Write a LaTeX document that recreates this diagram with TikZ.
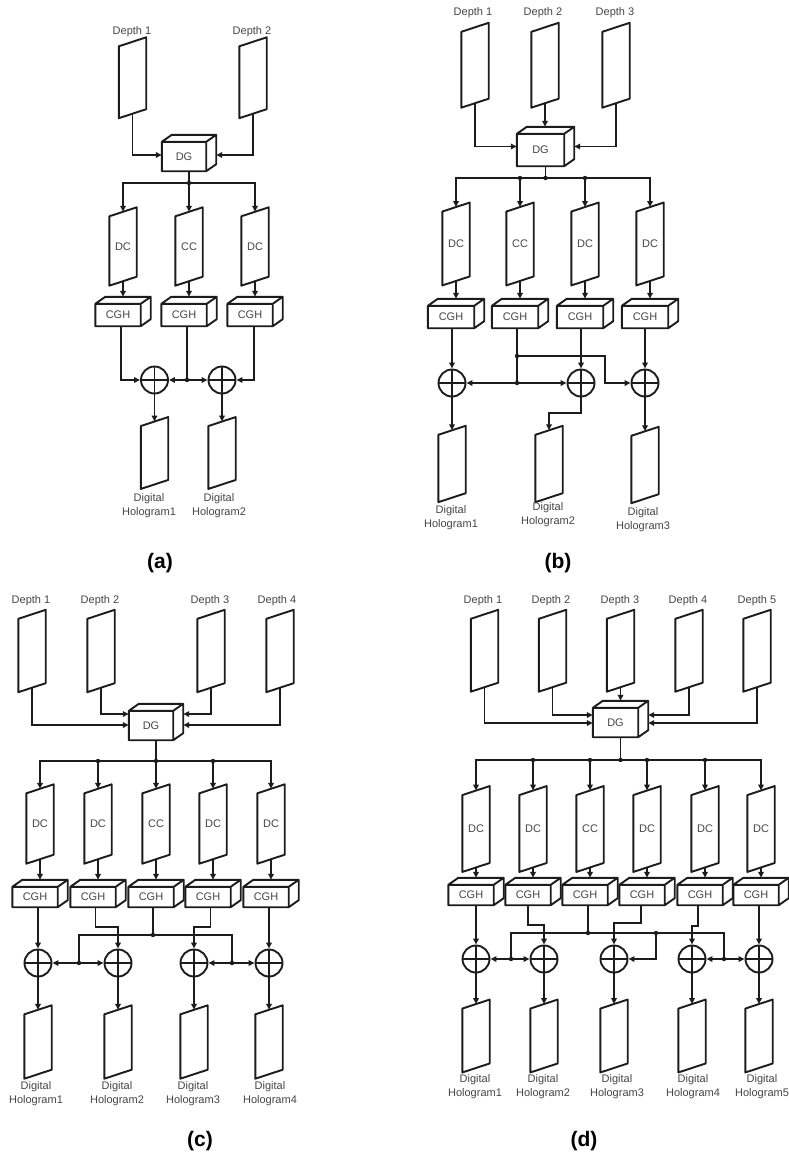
\documentclass[tikz,border=0pt]{standalone}
\usepackage{fontspec}
\usetikzlibrary{calc,arrows.meta}
\newfontfamily\labfont{Liberation Sans}
\definecolor{linec}{RGB}{28,28,28}
\definecolor{txtc}{RGB}{70,70,70}
\tikzset{
  ln/.style={draw=linec, line width=1.9pt},
  arr/.style={ln, -{Triangle[length=6pt,width=5.5pt]}},
  txt/.style={font=\labfont\fontsize{11}{14.5}\selectfont, text=txtc, inner sep=0pt, align=center},
  panel/.style={font=\labfont\bfseries\fontsize{21}{24}\selectfont, text=black, inner sep=0pt},
  % slanted sheet: node box spans the mid points of the top and bottom edges
  sheet/.style={txt, minimum width=27pt, minimum height=#1,
    append after command={\pgfextra{
      \draw[ln, line join=round]
        ($(\tikzlastnode.north west)+(0,4.5)$) -- ($(\tikzlastnode.north east)+(0,-4.5)$) --
        ($(\tikzlastnode.south east)+(0,-4.5)$) -- ($(\tikzlastnode.south west)+(0,4.5)$) -- cycle;}}},
  % box in perspective: node box is the whole outline, front face at bottom left
  cube/.style={inner sep=0pt,
    append after command={\pgfextra{
      \draw[ln, line join=round]
        (\tikzlastnode.south west) rectangle ($(\tikzlastnode.north east)+(-10,7)$)
        ($(\tikzlastnode.north west)+(0,7)$) -- ($(\tikzlastnode.north west)+(10,0)$) --
        (\tikzlastnode.north east) -- ($(\tikzlastnode.north east)+(-10,7)$)
        (\tikzlastnode.north east) -- ($(\tikzlastnode.south east)+(0,-7)$) --
        ($(\tikzlastnode.south east)+(-10,0)$);}}},
  cubetxt/.style={txt, xshift=-5pt, yshift=-3.5pt},
  adder/.style={circle, draw=linec, line width=1.9pt, minimum size=27pt, inner sep=0pt,
    path picture={\draw[ln] (path picture bounding box.north) -- (path picture bounding box.south)
      (path picture bounding box.west) -- (path picture bounding box.east);}},
}
\begin{document}
\begin{tikzpicture}[x=1pt, y=-1pt]
\useasboundingbox (0,0) rectangle (788,1156);
\fill[white] (0,0) rectangle (788,1156);

% ====================== (a) ======================
\node[txt] (aL1) at (132,32) {Depth 1};
\node[txt] (aL2) at (252,32) {Depth 2};
\node[sheet=71.5pt] (ad1) at (132.5,77.75) {};
\node[sheet=71.5pt] (ad2) at (253,77.75) {};
\node[cube, minimum width=54pt, minimum height=36pt, label={[cubetxt]center:DG}] (adg) at (189,153) {};
\draw[arr] (ad1.south) |- ([yshift=-2pt]adg.west);
\draw[arr] (ad2.south) |- ([yshift=-2pt]adg.east);
\coordinate (ab) at (189,183);
\draw[ln] (adg.south) -- (ab);
\node[sheet=69pt] (adc1) at (123,246.5) {DC};
\node[sheet=69pt] (adc2) at (189,246.5) {CC};
\node[sheet=69pt] (adc3) at (255,246.5) {DC};
\draw[arr] (ab) -| (adc1.north);
\draw[arr] (ab) -- (adc2.north);
\draw[arr] (ab) -| (adc3.north);
\foreach \i in {1,2,3}{
  \node[cube, minimum width=55pt, minimum height=29pt, label={[cubetxt]center:CGH}] (ac\i) at (adc\i.center |- 0,311.5) {};
  \draw[arr] (adc\i.south) -- (ac\i.north);
}
\node[adder] (as1) at (154.5,380) {};
\node[adder] (as2) at (222,380) {};
\coordinate (aj) at (187,380);
\draw[arr] ([xshift=-2pt]ac1.south) |- (as1.west);
\draw[ln] (aj |- ac2.south) -- (aj);
\draw[arr] (aj) -- (as1.east);
\draw[arr] (aj) -- (as2.west);
\draw[arr] ([xshift=-1pt]ac3.south) |- (as2.east);
\node[sheet=62.5pt] (ah1) at (154.5,453) {};
\node[sheet=62.5pt] (ah2) at (222,453) {};
\draw[arr] (as1.south) -- (ah1.north);
\draw[arr] (as2.south) -- (ah2.north);
\node[txt] (aT1) at (149,505.5) {Digital\\Hologram1};
\node[txt] (aT2) at (219,505.5) {Digital\\Hologram2};
\node[panel] (acap) at (160,563) {(a)};
\foreach \p in {ab,aj} \fill[linec] (\p) circle (2.2pt);

% ====================== (b) ======================
\node[txt] (bL1) at (473,13) {Depth 1};
\node[txt] (bL2) at (543,13) {Depth 2};
\node[txt] (bL3) at (615,13) {Depth 3};
\node[sheet=75.5pt] (bd1) at (475,65.25) {};
\node[sheet=75.5pt] (bd2) at (545,65.25) {};
\node[sheet=75.5pt] (bd3) at (616,65.25) {};
\node[cube, minimum width=57pt, minimum height=39pt, label={[cubetxt]center:DG}] (bdg) at (545.5,146.5) {};
\draw[arr] (bd1.south) |- (bdg.west);
\draw[arr] (bd2.south) -- (bd2.south |- bdg.north);
\draw[arr] (bd3.south) |- (bdg.east);
\coordinate (bb) at (545.5,178);
\coordinate (bj1) at (520,178);
\coordinate (bj2) at (585,178);
\draw[ln] (bdg.south) -- (bb);
\node[sheet=73.5pt] (bdc1) at (456,244) {DC};
\node[sheet=73.5pt] (bdc2) at (520,244) {CC};
\node[sheet=73.5pt] (bdc3) at (585,244) {DC};
\node[sheet=73.5pt] (bdc4) at (650,244) {DC};
\foreach \i in {1,...,4}{
  \draw[arr] (bb) -| (bdc\i.north);
  \node[cube, minimum width=56pt, minimum height=29pt, label={[cubetxt]center:CGH}] (bc\i) at (bdc\i.center |- 0,313.5) {};
  \draw[arr] (bdc\i.south) -- (bc\i.north);
}
\node[adder] (bs1) at (452,383) {};
\node[adder] (bs2) at (581,383) {};
\node[adder] (bs3) at (645,383) {};
\coordinate (bj3) at (517,356);
\coordinate (bj4) at (517,383);
\coordinate (bk1) at (605,356);
\draw[arr] (bs1.north |- bc1.south) -- (bs1.north);
\draw[ln] (bj3 |- bc2.south) -- (bj4);
\draw[arr] (bj4) -- (bs1.east);
\draw[arr] (bj4) -- (bs2.west);
\draw[arr] (bj3) -- (bk1) |- (bs3.west);
\draw[arr] (bs2.north |- bc3.south) -- (bs2.north);
\draw[arr] (bs3.north |- bc4.south) -- (bs3.north);
\node[sheet=67pt] (bh1) at (452,464) {};
\node[sheet=67pt] (bh2) at (549,464) {};
\node[sheet=67pt] (bh3) at (645,465) {};
\coordinate (bk2) at (549,413);
\draw[arr] (bs1.south) -- (bh1.north);
\draw[arr] (bs2.south) |- (bk2) -- (bh2.north);
\draw[arr] (bs3.south) -- (bh3.north);
\node[txt] (bT1) at (451,517.5) {Digital\\Hologram1};
\node[txt] (bT2) at (548,514.5) {Digital\\Hologram2};
\node[txt] (bT3) at (643,519.5) {Digital\\Hologram3};
\node[panel] (bcap) at (558,563) {(b)};
\foreach \p in {bb,bj1,bj2,bj3,bj4} \fill[linec] (\p) circle (2.2pt);

% ====================== (c) ======================
\node[txt] (cL1) at (31,601) {Depth 1};
\node[txt] (cL2) at (100,601) {Depth 2};
\node[txt] (cL3) at (210,601) {Depth 3};
\node[txt] (cL4) at (277,601) {Depth 4};
\node[sheet=73pt] (cd1) at (32,651) {};
\node[sheet=73pt] (cd2) at (101,651) {};
\node[sheet=73pt] (cd3) at (211,651) {};
\node[sheet=73pt] (cd4) at (280,651) {};
\node[cube, minimum width=54pt, minimum height=36pt, label={[cubetxt]center:DG}] (cdg) at (156,722) {};
\draw[arr] (cd1.south) |- ([yshift=-3pt]cdg.west);
\draw[arr] (cd2.south) |- ([yshift=8pt]cdg.west);
\draw[arr] (cd3.south) |- ([yshift=8pt]cdg.east);
\draw[arr] (cd4.south) |- ([yshift=-3pt]cdg.east);
\coordinate (cb) at (156,761);
\coordinate (cbj1) at (98,761);
\coordinate (cbj2) at (213,761);
\draw[ln] (cdg.south) -- (cb);
\node[sheet=70pt] (cdc1) at (40,824) {DC};
\node[sheet=70pt] (cdc2) at (98,824) {DC};
\node[sheet=70pt] (cdc3) at (156,824) {CC};
\node[sheet=70pt] (cdc4) at (213,824) {DC};
\node[sheet=70pt] (cdc5) at (271,824) {DC};
\foreach \i in {1,...,5}{
  \draw[arr] (cb) -| (cdc\i.north);
  \node[cube, minimum width=55pt, minimum height=27pt, label={[cubetxt]center:CGH}] (cc\i) at (cdc\i.center |- 0,893.5) {};
  \draw[arr] (cdc\i.south) -- (cc\i.north);
}
\node[adder] (cs1) at (38,963) {};
\node[adder] (cs2) at (118,963) {};
\node[adder] (cs3) at (194,963) {};
\node[adder] (cs4) at (269,963) {};
\coordinate (ck1) at (95.5,927);
\coordinate (ck2) at (210.5,927);
\coordinate (cj) at (153,935);
\coordinate (cq1) at (79,935);
\coordinate (cq2) at (232,935);
\coordinate (cj1) at (79,963);
\coordinate (cj2) at (232,963);
\draw[arr] (cs1.north |- cc1.south) -- (cs1.north);
\draw[arr] (ck1 |- cc2.south) -- (ck1) -| (cs2.north);
\draw[ln] (cj |- cc3.south) -- (cj);
\draw[ln] (cj1) -- (cq1) -- (cq2) -- (cj2);
\draw[arr] (ck2 |- cc4.south) -- (ck2) -| (cs3.north);
\draw[arr] (cs4.north |- cc5.south) -- (cs4.north);
\draw[arr] (cj1) -- (cs1.east);
\draw[arr] (cj1) -- (cs2.west);
\draw[arr] (cj2) -- (cs3.east);
\draw[arr] (cj2) -- (cs4.west);
\foreach \i in {1,...,4}{
  \node[sheet=64pt] (ch\i) at (cs\i.center |- 0,1042) {};
  \draw[arr] (cs\i.south) -- (ch\i.north);
}
\node[txt] (cT1) at (36,1093.5) {Digital\\Hologram1};
\node[txt] (cT2) at (117,1093.5) {Digital\\Hologram2};
\node[txt] (cT3) at (193,1093.5) {Digital\\Hologram3};
\node[txt] (cT4) at (270,1093.5) {Digital\\Hologram4};
\node[panel] (ccap) at (200,1141) {(c)};
\foreach \p in {cb,cbj1,cbj2,cj,cj1,cj2} \fill[linec] (\p) circle (2.2pt);

% ====================== (d) ======================
\node[txt] (dL1) at (483,601) {Depth 1};
\node[txt] (dL2) at (551,601) {Depth 2};
\node[txt] (dL3) at (620,601) {Depth 3};
\node[txt] (dL4) at (688,601) {Depth 4};
\node[txt] (dL5) at (757,601) {Depth 5};
\node[sheet=72.5pt] (dd1) at (484.5,650.75) {};
\node[sheet=72.5pt] (dd2) at (552.5,650.75) {};
\node[sheet=72.5pt] (dd3) at (620.5,650.75) {};
\node[sheet=72.5pt] (dd4) at (689,650.75) {};
\node[sheet=72.5pt] (dd5) at (757,650.75) {};
\node[cube, minimum width=55pt, minimum height=36pt, label={[cubetxt]center:DG}] (ddg) at (620.5,719) {};
\draw[arr] (dd1.south) |- ([yshift=-4pt]ddg.west);
\draw[arr] (dd2.south) |- ([yshift=4pt]ddg.west);
\draw[arr] (dd3.south) -- (dd3.south |- ddg.north);
\draw[arr] (dd4.south) |- ([yshift=4pt]ddg.east);
\draw[arr] (dd5.south) |- ([yshift=-4pt]ddg.east);
\coordinate (db) at (620.5,760);
\draw[ln] (ddg.south) -- (db);
\node[sheet=76.5pt] (ddc1) at (476,829) {DC};
\node[sheet=76.5pt] (ddc2) at (533,829) {DC};
\node[sheet=76.5pt] (ddc3) at (590,829) {CC};
\node[sheet=76.5pt] (ddc4) at (647,829) {DC};
\node[sheet=76.5pt] (ddc5) at (705,829) {DC};
\node[sheet=76.5pt] (ddc6) at (761,829) {DC};
\foreach \i in {1,...,6}{
  \draw[arr] (db) -| (ddc\i.north);
  \node[cube, minimum width=55pt, minimum height=27pt, label={[cubetxt]center:CGH}] (dc\i) at (ddc\i.center |- 0,891.5) {};
  \draw[arr] (ddc\i.south) -- (dc\i.north);
}
\foreach \i/\x in {2/533,3/590,4/647,5/705} \coordinate (dbj\i) at (\x,760);
\node[adder] (ds1) at (476,959) {};
\node[adder] (ds2) at (544,959) {};
\node[adder] (ds3) at (614,959) {};
\node[adder] (ds4) at (692,959) {};
\node[adder] (ds5) at (759,959) {};
\coordinate (dk1) at (528,925);
\coordinate (dk2) at (641,923);
\coordinate (dk3) at (698,926);
\coordinate (dj) at (588,933);
\coordinate (dq1) at (511,933);
\coordinate (dq2) at (724,933);
\coordinate (dq3) at (656,933);
\coordinate (dj1) at (511,959);
\coordinate (dj2) at (724,959);
\coordinate (dj3) at (656,959);
\draw[arr] (ds1.north |- dc1.south) -- (ds1.north);
\draw[arr] (dk1 |- dc2.south) -- (dk1) -| (ds2.north);
\draw[ln] (dj |- dc3.south) -- (dj);
\draw[ln] (dj1) -- (dq1) -- (dq2) -- (dj2);
\draw[arr] (dq3) -- (dj3) -- (ds3.east);
\draw[arr] (dk2 |- dc4.south) -- (dk2) -| (ds3.north);
\draw[arr] (dk3 |- dc5.south) -- (dk3) -| (ds4.north);
\draw[arr] (ds5.north |- dc6.south) -- (ds5.north);
\draw[arr] (dj1) -- (ds1.east);
\draw[arr] (dj1) -- (ds2.west);
\draw[arr] (dj2) -- (ds4.east);
\draw[arr] (dj2) -- (ds5.west);
\foreach \i in {1,...,5}{
  \node[sheet=63.5pt] (dh\i) at (ds\i.center |- 0,1036) {};
  \draw[arr] (ds\i.south) -- (dh\i.north);
}
\node[txt] (dT1) at (475,1086.5) {Digital\\Hologram1};
\node[txt] (dT2) at (543,1086.5) {Digital\\Hologram2};
\node[txt] (dT3) at (617,1086.5) {Digital\\Hologram3};
\node[txt] (dT4) at (693,1086.5) {Digital\\Hologram4};
\node[txt] (dT5) at (762,1086.5) {Digital\\Hologram5};
\node[panel] (dcap) at (584,1141) {(d)};
\foreach \p in {db,dbj2,dbj3,dbj4,dbj5,dj,dq3,dj1,dj2} \fill[linec] (\p) circle (2.2pt);
\end{tikzpicture}
\end{document}
